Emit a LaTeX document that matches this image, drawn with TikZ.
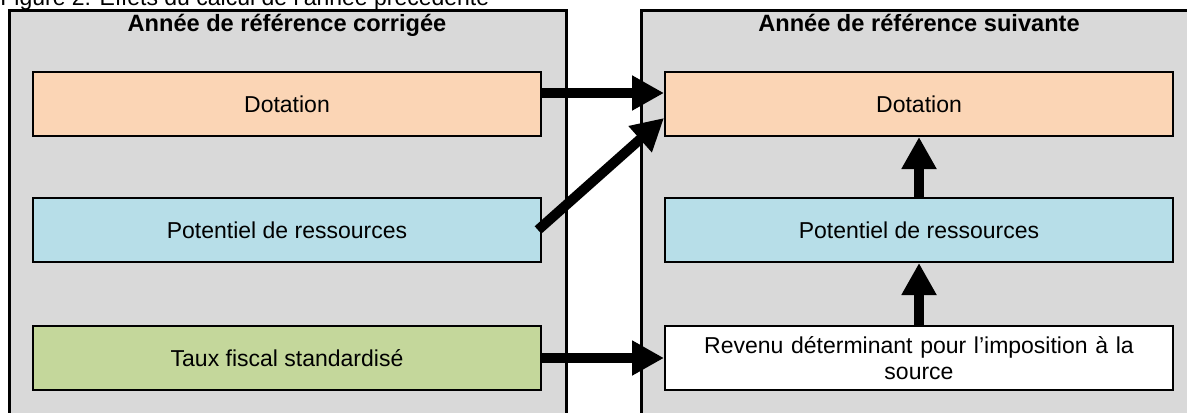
\documentclass[tikz,border=0pt]{standalone}
\usepackage{fontspec}
\setmainfont{Liberation Sans}
\usetikzlibrary{arrows.meta}
\definecolor{panelgray}{HTML}{D9D9D9}
\definecolor{orangebox}{HTML}{FBD5B5}
\definecolor{bluebox}{HTML}{B7DEE8}
\definecolor{greenbox}{HTML}{C4D79B}
\tikzset{
  panel/.style={fill=panelgray, draw=black, line width=1.5pt},
  boxnode/.style={draw=black, line width=1pt, minimum width=254pt, minimum height=32pt, inner sep=0pt,
    font=\fontsize{11.5}{13.3}\selectfont, align=center},
  titlenode/.style={font=\fontsize{11.8}{14}\selectfont\bfseries, anchor=base, inner sep=0pt},
  bigarrow/.style={line width=5pt, -{Triangle[length=16pt, width=16.5pt]}}
}
\begin{document}
\begin{tikzpicture}[x=0.5pt, y=-0.5pt]
\useasboundingbox (0,0) rectangle (1187,412);
\clip (0,0) rectangle (1187,412);
% panels
\path[panel] (9,10) rectangle (566,430);
\path[panel] (641.5,10) rectangle (1210,430);
% caption (cut off at top)
\node[anchor=base west, inner sep=0pt, font=\fontsize{11.5}{13.8}\selectfont] (cap) at (0,5) {Figure 2: Effets du calcul de l’année précédente};
% titles
\node[titlenode] (tl) at (287,31.5) {Année de référence corrigée};
\node[titlenode] (tr) at (919,31.5) {Année de référence suivante};
% left boxes
\node[boxnode, fill=orangebox] (d1) at (287,104) {Dotation};
\node[boxnode, fill=bluebox] (p1) at (287,230) {Potentiel de ressources};
\node[boxnode, fill=greenbox] (t1) at (287,358) {Taux fiscal standardisé};
% right boxes
\node[boxnode, fill=orangebox] (d2) at (919,104) {Dotation};
\node[boxnode, fill=bluebox] (p2) at (919,230) {Potentiel de ressources};
\node[boxnode, fill=white, text width=240pt] (r2) at (919,358) {Revenu déterminant pour l’imposition à la\\source};
% arrows
\draw[bigarrow] ([yshift=5.5pt]d1.east) -- ([yshift=5.5pt]d2.west);
\draw[bigarrow] ([xshift=-2pt]p1.east) -- ([yshift=-7pt]d2.west);
\draw[bigarrow] (t1.east) -- (r2.west);
\draw[bigarrow] (r2.north) -- (p2.south);
\draw[bigarrow] (p2.north) -- (d2.south);
\end{tikzpicture}
\end{document}
